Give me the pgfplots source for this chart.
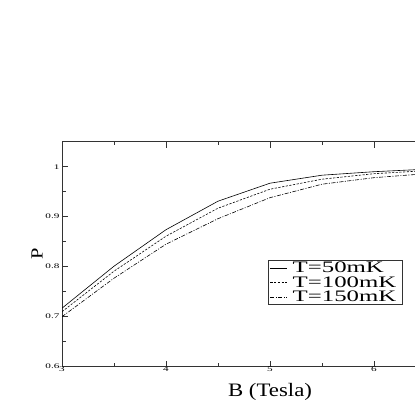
\documentclass[border=0pt]{standalone}
\usepackage{fontspec}
\setmainfont{Liberation Serif}
\newfontfamily\tickfont[FakeStretch=1.6]{Liberation Serif}
\newfontfamily\legfont[FakeStretch=1.55]{Liberation Serif}
\newfontfamily\labfont[FakeStretch=1.2]{Liberation Serif}
\usepackage{pgfplots}
\pgfplotsset{compat=1.18}

\begin{document}
\begin{tikzpicture}[x=1pt,y=1pt]
\useasboundingbox (0,0) rectangle (415,415);
\clip (0,0) rectangle (415,415);
\begin{axis}[
    scale only axis,
    width=416pt, height=225pt,
    at={(62pt,48.3pt)}, anchor=south west,
    xmin=3, xmax=7, ymin=0.6, ymax=1.05,
    xtick={3,4,5,6}, ytick={0.6,0.7,0.8,0.9,1},
    minor x tick num=1, minor y tick num=1,
    tick align=inside,
    major tick length=6pt, minor tick length=3.5pt,
    axis line style={line width=0.8pt, black!80},
    tick style={line width=0.8pt, black!80},
    /pgf/number format/assume math mode=true,
    ticklabel style={font=\tickfont\fontsize{7}{8}\selectfont},
    yticklabel style={xshift=1pt},
    xticklabel style={yshift=3pt},
    yticklabels={0.6,0.7,0.8,0.9,1},
    xticklabels={3,4,5,6},
    xlabel={B (Tesla)},
    ylabel={P},
    xlabel style={font=\labfont\fontsize{19}{21}\selectfont, yshift=-5pt},
    ylabel style={font=\labfont\fontsize{17}{19}\selectfont, yshift=-4pt},
    legend style={at={(0.496,0.274)}, anchor=south west,
        font=\legfont\fontsize{16}{17}\selectfont, draw=black!80, line width=0.6pt,
        inner sep=1.5pt, row sep=2.5pt, cells={anchor=west},
        nodes={inner xsep=5pt, inner ysep=0pt}},
    legend image code/.code={\draw[#1] (0pt,0pt) -- (17pt,0pt);},
    every axis plot/.append style={line width=0.6pt, black},
]
\addplot[solid] coordinates {(3,0.717) (3.5,0.801) (4,0.874) (4.5,0.931) (5,0.967) (5.5,0.983) (6,0.990) (6.5,0.995) (7,0.997)};
\addlegendentry{T=50mK}
\addplot[dash pattern=on 2.2pt off 1.5pt] coordinates {(3,0.710) (3.5,0.791) (4,0.861) (4.5,0.917) (5,0.955) (5.5,0.975) (6,0.986) (6.5,0.992) (7,0.995)};
\addlegendentry{T=100mK}
\addplot[dash pattern=on 4pt off 1.5pt on 1pt off 1.5pt] coordinates {(3,0.700) (3.5,0.777) (4,0.845) (4.5,0.896) (5,0.938) (5.5,0.965) (6,0.978) (6.5,0.986) (7,0.990)};
\addlegendentry{T=150mK}
\end{axis}
\end{tikzpicture}
\end{document}
